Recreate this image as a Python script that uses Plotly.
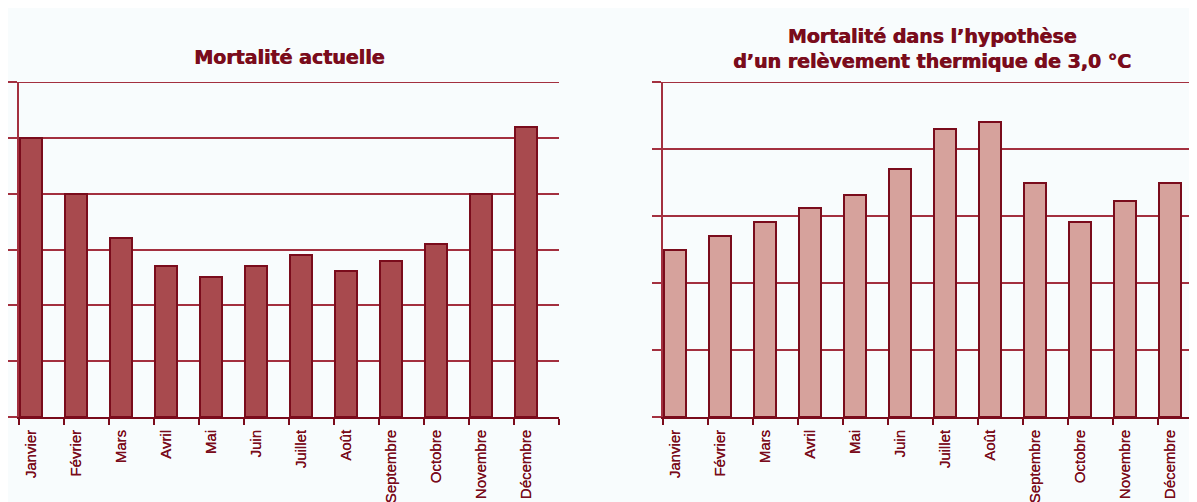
import plotly.graph_objs as go

mois = ["Janvier", "Février", "Mars", "Avril", "Mai", "Juin", "Juillet",
        "Août", "Septembre", "Octobre", "Novembre", "Décembre"]

# valeurs (unités de grille)
actuelle = [5.0, 4.0, 3.2, 2.7, 2.5, 2.7, 2.9, 2.62, 2.8, 3.1, 4.0, 5.2]
hypothese = [2.5, 2.7, 2.91, 3.12, 3.31, 3.7, 4.3, 4.4, 3.5, 2.91, 3.22, 3.5]

titre_g = "Mortalité actuelle"
titre_d = "Mortalité dans l’hypothèse<br>d’un relèvement thermique de 3,0 °C"

rouge = "#7a0c1c"
grille = "#a3303f"
fond = "#f8fcfd"

pos = list(range(len(mois)))
W, H = 1197, 502

fig = go.Figure()
fig.add_trace(go.Bar(x=pos, y=actuelle, width=0.49, xaxis="x", yaxis="y",
                     marker=dict(color="#a84a4e", line=dict(color=rouge, width=2)),
                     showlegend=False))
fig.add_trace(go.Bar(x=pos, y=hypothese, width=0.49, xaxis="x2", yaxis="y2",
                     marker=dict(color="#d6a29c", line=dict(color=rouge, width=2)),
                     showlegend=False))

def axe_x(domaine):
    return dict(domain=domaine, range=[-0.26, 11.74], tickmode="array",
                tickvals=pos, ticktext=mois, tickangle=-90, ticks="",
                ticklabelstandoff=5,
                tickfont=dict(family="Liberation Sans", size=15, color=rouge,
                              shadow="0.3px 0 0 " + rouge),
                showgrid=False, zeroline=False, showline=True,
                linecolor=rouge, linewidth=2,
                minor=dict(tickmode="linear", tick0=-0.26, dtick=1,
                           ticks="outside", ticklen=6, tickwidth=1.5,
                           tickcolor=rouge, showgrid=False))

def axe_y(domaine, haut, ancre):
    return dict(domain=domaine, range=[0, haut], dtick=1, tick0=0,
                anchor=ancre, showticklabels=False, ticks="outside",
                ticklen=9, tickwidth=2, tickcolor=grille,
                showgrid=True, gridcolor=grille, gridwidth=2,
                zeroline=False, showline=True, linecolor=grille, linewidth=1.5)

police_titre = dict(family="DejaVu Sans", size=19, color=rouge,
                    shadow="0.7px 0 0 " + rouge)

# la page ajoute une marge de 8 px : positions de l'image moins 8
dom_y = [(H - 409) / H, (H - 74) / H]
fig.update_layout(
    width=W, height=H,
    margin=dict(l=0, r=0, t=0, b=0),
    paper_bgcolor=fond, plot_bgcolor=fond,
    bargap=0,
    xaxis=axe_x([11 / W, 551 / W]),
    yaxis=axe_y(dom_y, 6, "x"),
    xaxis2=dict(axe_x([655 / W, 1195 / W]), anchor="y2"),
    yaxis2=axe_y(dom_y, 5, "x2"),
    shapes=[
        dict(type="line", xref="x domain", yref="y", x0=0, x1=1, y0=6, y1=6,
             line=dict(color=grille, width=2), layer="below"),
        dict(type="line", xref="x2 domain", yref="y2", x0=0, x1=1, y0=5, y1=5,
             line=dict(color=grille, width=2), layer="below"),
    ],
    annotations=[
        dict(text="<b>" + titre_g + "</b>", xref="paper", yref="paper",
             x=281 / W, y=(H - 49) / H, xanchor="center", yanchor="middle",
             showarrow=False, font=police_titre),
        dict(text="<b>" + titre_d + "</b>", xref="paper", yref="paper",
             x=924 / W, y=(H - 40) / H, xanchor="center", yanchor="middle",
             showarrow=False, font=police_titre),
    ],
)

fig.write_html("out.html")
